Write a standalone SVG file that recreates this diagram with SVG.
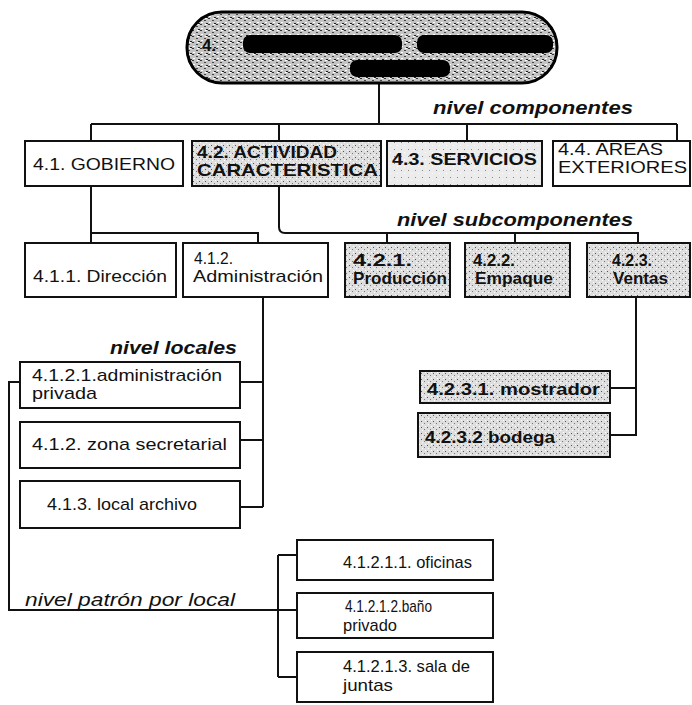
<svg xmlns="http://www.w3.org/2000/svg" width="692" height="705" viewBox="0 0 692 705">
<style>
.t{font-family:"Liberation Sans",Arial,Helvetica,sans-serif;font-size:17px;fill:#111}
.b{font-weight:bold}
.lv{font-weight:bold;font-style:italic;font-size:18px}
.it{font-style:italic;font-size:18px}
.box{fill:#fff;stroke:#111;stroke-width:2}
.gbox{fill:url(#stip);stroke:#111;stroke-width:2}
.lbox{fill:url(#stipl);stroke:#111;stroke-width:2}
.con{fill:none;stroke:#111;stroke-width:2}
</style>
<defs>
<pattern id="stip" width="6" height="6" patternUnits="userSpaceOnUse">
<rect width="6" height="6" fill="#dedede"/>
<rect x="1" y="1" width="1" height="1" fill="#555"/>
<rect x="4" y="3" width="1" height="1" fill="#777"/>
<rect x="2" y="4" width="1" height="1" fill="#fff"/>
<rect x="5" y="0" width="1" height="1" fill="#fff"/>
</pattern>
<pattern id="stipl" width="7" height="7" patternUnits="userSpaceOnUse">
<rect width="7" height="7" fill="#ececec"/>
<rect x="2" y="2" width="1" height="1" fill="#888"/>
<rect x="5" y="5" width="1" height="1" fill="#fff"/>
</pattern>
<pattern id="mottle" width="8" height="6" patternUnits="userSpaceOnUse">
<rect width="8" height="6" fill="#c4c4c4"/>
<rect x="0" y="0" width="2" height="1" fill="#333"/>
<rect x="4" y="2" width="2" height="1" fill="#444"/>
<rect x="1" y="4" width="2" height="1" fill="#fff"/>
<rect x="6" y="5" width="2" height="1" fill="#222"/>
<rect x="5" y="0" width="2" height="1" fill="#fff"/>
</pattern>
</defs>

<g id="connectors" class="con">
<path d="M379 83V124"/>
<path d="M91 124H677"/>
<path d="M91 124V141M279 124V141M467 124V141M677 124V141"/>
<path d="M91 186V243"/>
<path d="M91 233H258V243"/>
<path d="M279 186V227Q279 233 285 233H638V243"/>
<path d="M387 233V243M515 233V243"/>
<path d="M263 297V507"/>
<path d="M240 382H263M240 440H263M240 507H263"/>
<path d="M20 382H9V610H297"/>
<path d="M278 555V677"/>
<path d="M278 555H297M278 677H297"/>
<path d="M636 297V435H610"/>
<path d="M610 388H636"/>
</g>

<g id="title">
<rect x="187" y="12" width="370" height="71" rx="35" fill="url(#mottle)" stroke="#000" stroke-width="3"/>
<text class="t b" x="202" y="51" font-size="17">4.</text>
<rect x="243" y="35" width="159" height="18" rx="7" fill="#000"/>
<rect x="417" y="35" width="136" height="18" rx="7" fill="#000"/>
<rect x="350" y="60" width="100" height="17" rx="7" fill="#000"/>
</g>

<text class="t lv" x="433" y="114" textLength="200" lengthAdjust="spacingAndGlyphs">nivel componentes</text>

<g id="n41"><rect class="box" x="25" y="141" width="158" height="45"/>
<text class="t" x="33" y="170" textLength="142" lengthAdjust="spacingAndGlyphs">4.1. GOBIERNO</text></g>
<g id="n42"><rect class="gbox" x="192" y="141" width="189" height="45"/>
<text class="t b" x="197" y="158" font-size="14" textLength="140" lengthAdjust="spacingAndGlyphs">4.2. ACTIVIDAD</text>
<text class="t b" x="197" y="176" font-size="14" textLength="181" lengthAdjust="spacingAndGlyphs">CARACTERISTICA</text></g>
<g id="n43"><rect class="lbox" x="387" y="141" width="155" height="45"/>
<text class="t b" x="392" y="165" textLength="145" lengthAdjust="spacingAndGlyphs">4.3. SERVICIOS</text></g>
<g id="n44"><rect class="box" x="553" y="141" width="137" height="45"/>
<text class="t" x="558" y="155" font-size="16" textLength="105" lengthAdjust="spacingAndGlyphs">4.4. AREAS</text>
<text class="t" x="558" y="173" font-size="16" textLength="129" lengthAdjust="spacingAndGlyphs">EXTERIORES</text></g>

<text class="t lv" x="397" y="226" textLength="236" lengthAdjust="spacingAndGlyphs">nivel  subcomponentes</text>

<g id="n411"><rect class="box" x="25" y="243" width="151" height="54"/>
<text class="t" x="33" y="282" textLength="134" lengthAdjust="spacingAndGlyphs">4.1.1. Dirección</text></g>
<g id="n412"><rect class="box" x="183" y="243" width="145" height="54"/>
<text class="t" x="194" y="264" font-size="16" textLength="39" lengthAdjust="spacingAndGlyphs">4.1.2.</text>
<text class="t" x="193" y="282" font-size="16" textLength="130" lengthAdjust="spacingAndGlyphs">Administración</text></g>
<g id="n421"><rect class="gbox" x="345" y="243" width="105" height="54"/>
<text class="t b" x="353" y="266" font-size="16" textLength="59" lengthAdjust="spacingAndGlyphs">4.2.1.</text>
<text class="t b" x="353" y="284" font-size="16" textLength="94" lengthAdjust="spacingAndGlyphs">Producción</text></g>
<g id="n422"><rect class="gbox" x="465" y="243" width="105" height="54"/>
<text class="t b" x="473" y="266" font-size="16" textLength="42" lengthAdjust="spacingAndGlyphs">4.2.2.</text>
<text class="t b" x="475" y="284" font-size="16" textLength="78" lengthAdjust="spacingAndGlyphs">Empaque</text></g>
<g id="n423"><rect class="gbox" x="587" y="243" width="103" height="54"/>
<text class="t b" x="612" y="266" font-size="16" textLength="40" lengthAdjust="spacingAndGlyphs">4.2.3.</text>
<text class="t b" x="613" y="284" font-size="16" textLength="55" lengthAdjust="spacingAndGlyphs">Ventas</text></g>

<text class="t lv" x="110" y="354" textLength="127" lengthAdjust="spacingAndGlyphs">nivel locales</text>

<g id="n4121"><rect class="box" x="20" y="362" width="220" height="46"/>
<text class="t" x="32" y="381" font-size="16" textLength="190" lengthAdjust="spacingAndGlyphs">4.1.2.1.administración</text>
<text class="t" x="32" y="399" font-size="16" textLength="65" lengthAdjust="spacingAndGlyphs">privada</text></g>
<g id="n412z"><rect class="box" x="20" y="422" width="220" height="46"/>
<text class="t" x="32" y="450" textLength="195" lengthAdjust="spacingAndGlyphs">4.1.2. zona secretarial</text></g>
<g id="n413"><rect class="box" x="20" y="481" width="220" height="47"/>
<text class="t" x="47" y="510" textLength="150" lengthAdjust="spacingAndGlyphs">4.1.3. local archivo</text></g>

<g id="n4231"><rect class="gbox" x="420" y="371" width="190" height="32"/>
<text class="t b" x="427" y="395" textLength="173" lengthAdjust="spacingAndGlyphs">4.2.3.1. mostrador</text></g>
<g id="n4232"><rect class="gbox" x="418" y="413" width="192" height="44"/>
<text class="t b" x="425" y="443" textLength="130" lengthAdjust="spacingAndGlyphs">4.2.3.2 bodega</text></g>

<text class="t it" x="25" y="606" textLength="210" lengthAdjust="spacingAndGlyphs">nivel patrón por local</text>

<g id="n41211"><rect class="box" x="297" y="540" width="196" height="40"/>
<text class="t" x="343" y="568" textLength="129" lengthAdjust="spacingAndGlyphs">4.1.2.1.1. oficinas</text></g>
<g id="n41212"><rect class="box" x="297" y="593" width="196" height="45"/>
<text class="t" x="345" y="612" font-size="15" textLength="87" lengthAdjust="spacingAndGlyphs">4.1.2.1.2.baño</text>
<text class="t" x="343" y="631" font-size="15" textLength="54" lengthAdjust="spacingAndGlyphs">privado</text></g>
<g id="n41213"><rect class="box" x="297" y="652" width="196" height="50"/>
<text class="t" x="343" y="672" font-size="15" textLength="127" lengthAdjust="spacingAndGlyphs">4.1.2.1.3. sala de</text>
<text class="t" x="343" y="691" font-size="15" textLength="50" lengthAdjust="spacingAndGlyphs">juntas</text></g>
</svg>
